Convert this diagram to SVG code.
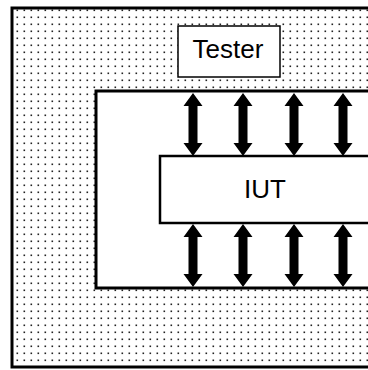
<svg xmlns="http://www.w3.org/2000/svg" xmlns:xlink="http://www.w3.org/1999/xlink" width="368" height="370" viewBox="0 0 368 370">
  <style>
    .frame { stroke: #000; stroke-width: 3; }
    .label { font-family: "Liberation Sans", Arial, sans-serif; font-size: 26px; fill: #000; text-anchor: middle; }
    .arrow { fill: #000; }
  </style>
  <defs>
    <pattern id="dots" patternUnits="userSpaceOnUse" x="0" y="0" width="7" height="7">
      <rect x="2.5" y="2.5" width="1.6" height="1.6" fill="#222"/>
    </pattern>
    <path id="dblArrow" class="arrow" d="M0,0 L9.5,13 L4.5,13 L4.5,50 L9.5,50 L0,63 L-9.5,50 L-4.5,50 L-4.5,13 L-9.5,13 Z"/>
  </defs>
  <rect x="0" y="0" width="368" height="370" fill="#fff"/>
  <g id="environment">
    <rect class="frame" x="12" y="8" width="380" height="359" fill="url(#dots)"/>
  </g>
  <g id="test-area">
    <rect class="frame" x="96" y="91" width="300" height="197" fill="#fff"/>
  </g>
  <g id="tester">
    <rect x="178" y="26" width="102" height="51" fill="#fff" stroke="#000" stroke-width="1.5"/>
    <text class="label" x="228" y="58">Tester</text>
  </g>
  <g id="iut">
    <rect x="160" y="156" width="230" height="67" fill="#fff" stroke="#000" stroke-width="2.5"/>
    <text class="label" x="265" y="198">IUT</text>
  </g>
  <g id="connectors">
    <use xlink:href="#dblArrow" x="193" y="93"/>
    <use xlink:href="#dblArrow" x="243" y="93"/>
    <use xlink:href="#dblArrow" x="294" y="93"/>
    <use xlink:href="#dblArrow" x="343" y="93"/>
    <use xlink:href="#dblArrow" x="193" y="224"/>
    <use xlink:href="#dblArrow" x="243" y="224"/>
    <use xlink:href="#dblArrow" x="294" y="224"/>
    <use xlink:href="#dblArrow" x="343" y="224"/>
  </g>
</svg>
